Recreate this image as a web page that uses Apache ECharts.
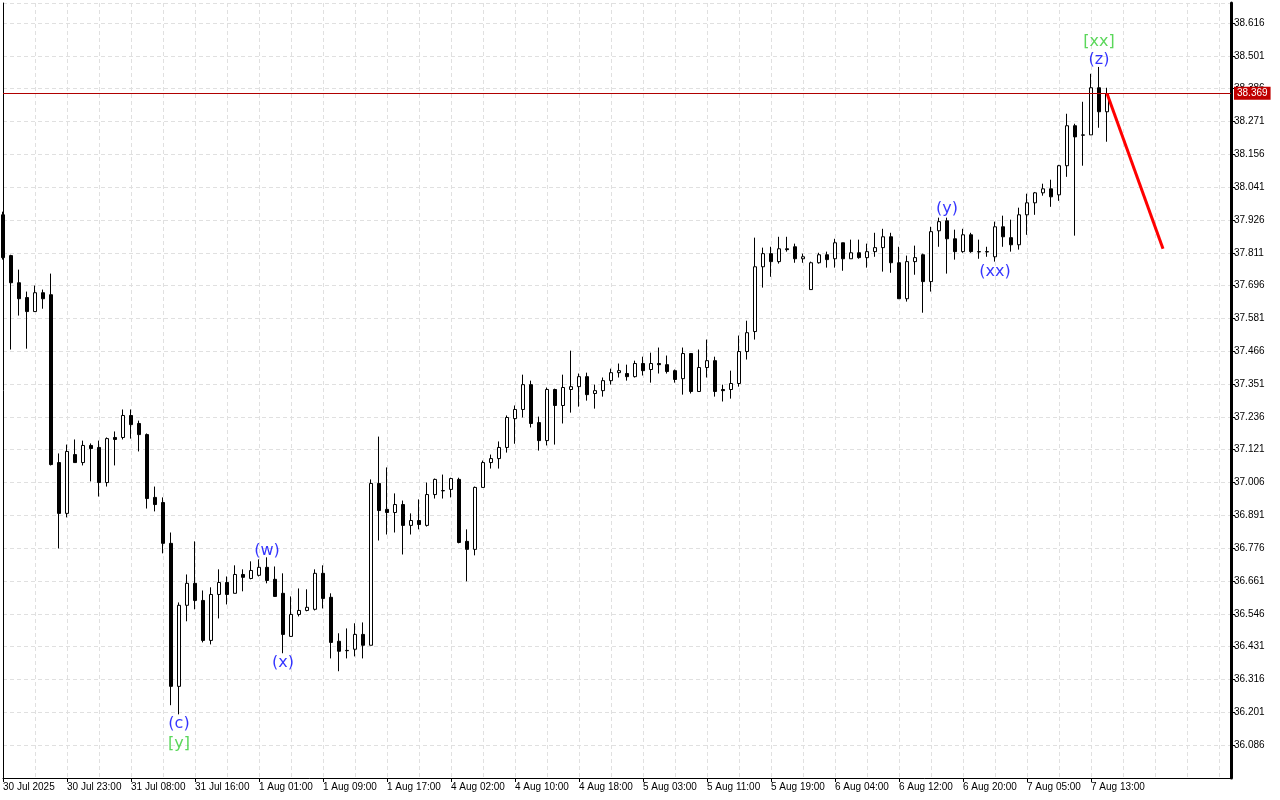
<!DOCTYPE html>
<html><head><meta charset="utf-8">
<script src="https://cdn.jsdelivr.net/npm/echarts@6/dist/echarts.min.js"></script>
<style>html,body{margin:0;padding:0;background:#fff}#c{width:1280px;height:800px}</style>
</head><body><div id="c"></div>
<script>
const opens=[37.944,37.801,37.706,37.654,37.605,37.671,37.664,37.076,36.898,37.104,
37.076,37.136,37.129,37.006,37.164,37.164,37.241,37.213,37.174,36.954,
36.936,36.793,36.292,36.576,36.653,36.593,36.453,36.614,36.656,36.618,
36.684,36.670,36.681,36.709,36.667,36.618,36.467,36.544,36.558,36.562,
36.688,36.604,36.450,36.418,36.422,36.474,36.436,37.003,36.912,36.901,
36.929,36.856,36.873,36.856,36.964,36.978,36.982,37.017,36.800,36.772,
36.989,37.076,37.090,37.129,37.230,37.262,37.349,37.216,37.153,37.332,
37.276,37.332,37.342,37.377,37.318,37.328,37.363,37.391,37.388,37.377,
37.423,37.402,37.423,37.419,37.398,37.370,37.458,37.325,37.409,37.433,
37.332,37.332,37.353,37.465,37.535,37.762,37.808,37.780,37.825,37.832,
37.790,37.682,37.776,37.804,37.790,37.846,37.790,37.811,37.794,37.815,
37.829,37.867,37.776,37.650,37.780,37.804,37.710,37.888,37.923,37.860,
37.815,37.874,37.815,37.815,37.797,37.902,37.864,37.839,37.944,37.986,
38.021,38.035,38.014,38.116,38.256,38.224,38.224,38.389,38.305];
const closes=[37.794,37.706,37.650,37.605,37.671,37.650,37.069,36.898,37.115,37.076,
37.136,37.125,37.006,37.160,37.157,37.241,37.209,37.174,36.950,36.929,
36.793,36.292,36.576,36.653,36.593,36.453,36.614,36.656,36.614,36.684,
36.674,36.698,36.709,36.663,36.607,36.474,36.544,36.558,36.569,36.688,
36.600,36.446,36.415,36.417,36.474,36.436,37.003,36.908,36.901,36.929,
36.856,36.873,36.859,36.964,37.017,36.977,37.020,36.796,36.772,36.989,
37.076,37.090,37.129,37.234,37.262,37.349,37.213,37.153,37.332,37.276,
37.339,37.342,37.377,37.314,37.328,37.363,37.391,37.398,37.377,37.423,
37.398,37.423,37.419,37.395,37.367,37.458,37.325,37.409,37.433,37.325,
37.328,37.353,37.465,37.531,37.762,37.808,37.780,37.825,37.822,37.790,
37.797,37.776,37.804,37.787,37.846,37.790,37.811,37.794,37.815,37.829,
37.867,37.776,37.650,37.780,37.794,37.710,37.885,37.920,37.860,37.815,
37.874,37.815,37.814,37.814,37.902,37.867,37.839,37.944,37.986,38.021,
38.035,38.007,38.116,38.256,38.217,38.223,38.389,38.305,38.369];
const highs=[37.955,37.804,37.752,37.675,37.696,37.682,37.738,37.108,37.139,37.157,
37.153,37.143,37.153,37.164,37.185,37.262,37.262,37.223,37.178,36.992,
36.954,36.831,36.586,36.684,36.800,36.628,36.639,36.702,36.677,36.716,
36.702,36.730,36.737,36.744,36.712,36.688,36.607,36.635,36.632,36.702,
36.716,36.618,36.478,36.495,36.513,36.516,37.017,37.167,37.059,36.968,
36.943,36.898,36.947,37.006,37.020,37.034,37.023,37.023,36.842,36.992,
37.083,37.104,37.150,37.241,37.276,37.384,37.363,37.237,37.339,37.335,
37.384,37.468,37.388,37.391,37.349,37.374,37.405,37.423,37.419,37.433,
37.447,37.461,37.479,37.451,37.402,37.479,37.458,37.472,37.507,37.447,
37.349,37.398,37.521,37.573,37.864,37.829,37.832,37.867,37.867,37.843,
37.808,37.780,37.811,37.815,37.860,37.846,37.857,37.857,37.843,37.881,
37.895,37.881,37.832,37.801,37.836,37.808,37.902,37.934,37.934,37.892,
37.895,37.881,37.857,37.832,37.920,37.941,37.927,37.969,38.018,38.024,
38.053,38.067,38.119,38.298,38.263,38.340,38.438,38.462,38.389];
const lows=[37.787,37.472,37.591,37.475,37.605,37.615,37.066,36.775,36.884,37.076,
37.066,37.010,36.957,36.992,37.066,37.157,37.160,37.115,36.915,36.905,
36.758,36.226,36.194,36.520,36.562,36.446,36.439,36.530,36.579,36.618,
36.625,36.667,36.677,36.653,36.607,36.408,36.467,36.537,36.555,36.558,
36.565,36.390,36.345,36.390,36.397,36.390,36.436,36.803,36.824,36.831,
36.754,36.824,36.842,36.852,36.950,36.950,36.954,36.793,36.660,36.751,
36.989,37.055,37.055,37.111,37.142,37.234,37.199,37.118,37.136,37.139,
37.213,37.251,37.272,37.293,37.265,37.307,37.349,37.374,37.363,37.374,
37.381,37.356,37.388,37.388,37.356,37.314,37.318,37.325,37.374,37.307,
37.290,37.300,37.342,37.437,37.507,37.689,37.727,37.773,37.815,37.776,
37.776,37.682,37.773,37.759,37.759,37.748,37.790,37.790,37.759,37.797,
37.745,37.741,37.650,37.640,37.734,37.601,37.675,37.832,37.738,37.787,
37.811,37.811,37.790,37.797,37.780,37.832,37.815,37.822,37.874,37.944,
38.011,37.972,37.993,38.077,37.871,38.116,38.224,38.249,38.200];
const tickLabels=["30 Jul 2025","30 Jul 23:00","31 Jul 08:00","31 Jul 16:00","1 Aug 01:00","1 Aug 09:00","1 Aug 17:00","4 Aug 02:00","4 Aug 10:00","4 Aug 18:00","5 Aug 03:00","5 Aug 11:00","5 Aug 19:00","6 Aug 04:00","6 Aug 12:00","6 Aug 20:00","7 Aug 05:00","7 Aug 13:00"];
const tickBars=tickLabels.map((_,i)=>i*8);
const annText=["(c)","[y]","(w)","(x)","(y)","(xx)","(z)","[xx]"];
const annBar=[22,22,33,35,118,124,137,137];
const annPrice=[36.159,36.089,36.768,36.373,37.965,37.745,38.487,38.550];
const annColor=["#0000ff","#32cd32","#0000ff","#0000ff","#0000ff","#0000ff","#0000ff","#32cd32"];
const lastPrice=38.369;
const forecastBar=[138,145];
const forecastPrice=[38.369,37.825];

const chart=echarts.init(document.getElementById('c'));
const FONT='Liberation Sans';
chart.setOption({
  animation:false,
  backgroundColor:'#fff',
  grid:{left:3,right:49,top:3,bottom:22},
  xAxis:[{
    type:'value',min:0,max:153.5,interval:8,
    axisLine:{show:true,onZero:false,lineStyle:{color:'#000',width:1}},
    axisTick:{show:true,length:4,customValues:tickBars,lineStyle:{color:'#000'}},
    axisLabel:{customValues:tickBars,formatter:v=>tickLabels[Math.round(v/8)]||'',align:'left',fontSize:10,fontFamily:FONT,color:'#000',margin:4},
    splitLine:{show:false}
  },{
    type:'value',min:0,max:153.5,interval:4,position:'bottom',
    axisLine:{show:false,onZero:false},axisTick:{show:false},axisLabel:{show:false},
    splitLine:{show:true,lineStyle:{color:'#e0e0e0',type:[4,3],width:1}}
  }],
  yAxis:[{
    type:'value',position:'right',min:35.971,max:38.686,interval:0.115,
    axisLine:{show:true,onZero:false,lineStyle:{color:'#000',width:3}},
    axisTick:{show:true,length:4,lineStyle:{color:'#000'}},
    axisLabel:{formatter:v=>v.toFixed(3),fontSize:10,fontFamily:FONT,color:'#000',margin:3,showMinLabel:false,showMaxLabel:false},
    splitLine:{show:true,lineStyle:{color:'#e0e0e0',type:[4,3],width:1}}
  },{
    type:'value',position:'left',min:35.971,max:38.686,
    axisLine:{show:true,onZero:false,lineStyle:{color:'#000',width:1}},
    axisTick:{show:false},axisLabel:{show:false},splitLine:{show:false}
  }],
  series:[{
    type:'candlestick',xAxisIndex:0,yAxisIndex:0,
    data:opens.map((o,i)=>[i,o,closes[i],lows[i],highs[i]]),
    encode:{x:0,y:[1,2,3,4]},
    barWidth:4,
    itemStyle:{color:'#fff',color0:'#000',borderColor:'#000',borderColor0:'#000',borderColorDoji:'#000',borderWidth:1},
    markLine:{symbol:'none',silent:true,
      lineStyle:{color:'#b00000',type:'solid',width:1},
      label:{show:true,position:'end',distance:3,formatter:lastPrice.toFixed(3),color:'#fff',backgroundColor:'#c00000',padding:[2,3,1,3],fontSize:10,fontFamily:FONT},
      data:[{yAxis:lastPrice}]}
  },{
    type:'line',xAxisIndex:0,yAxisIndex:0,symbol:'none',z:5,
    data:forecastBar.map((b,i)=>[b,forecastPrice[i]]),
    lineStyle:{color:'#ff0000',width:3}
  },{
    type:'scatter',xAxisIndex:0,yAxisIndex:0,symbolSize:0,z:6,
    data:annBar.map((b,i)=>({value:[b,annPrice[i]],label:{formatter:annText[i],color:annColor[i]}})),
    label:{show:true,position:'inside',fontSize:16,fontFamily:'DejaVu Sans',align:'center',verticalAlign:'middle'}
  }]
});
</script></body></html>
